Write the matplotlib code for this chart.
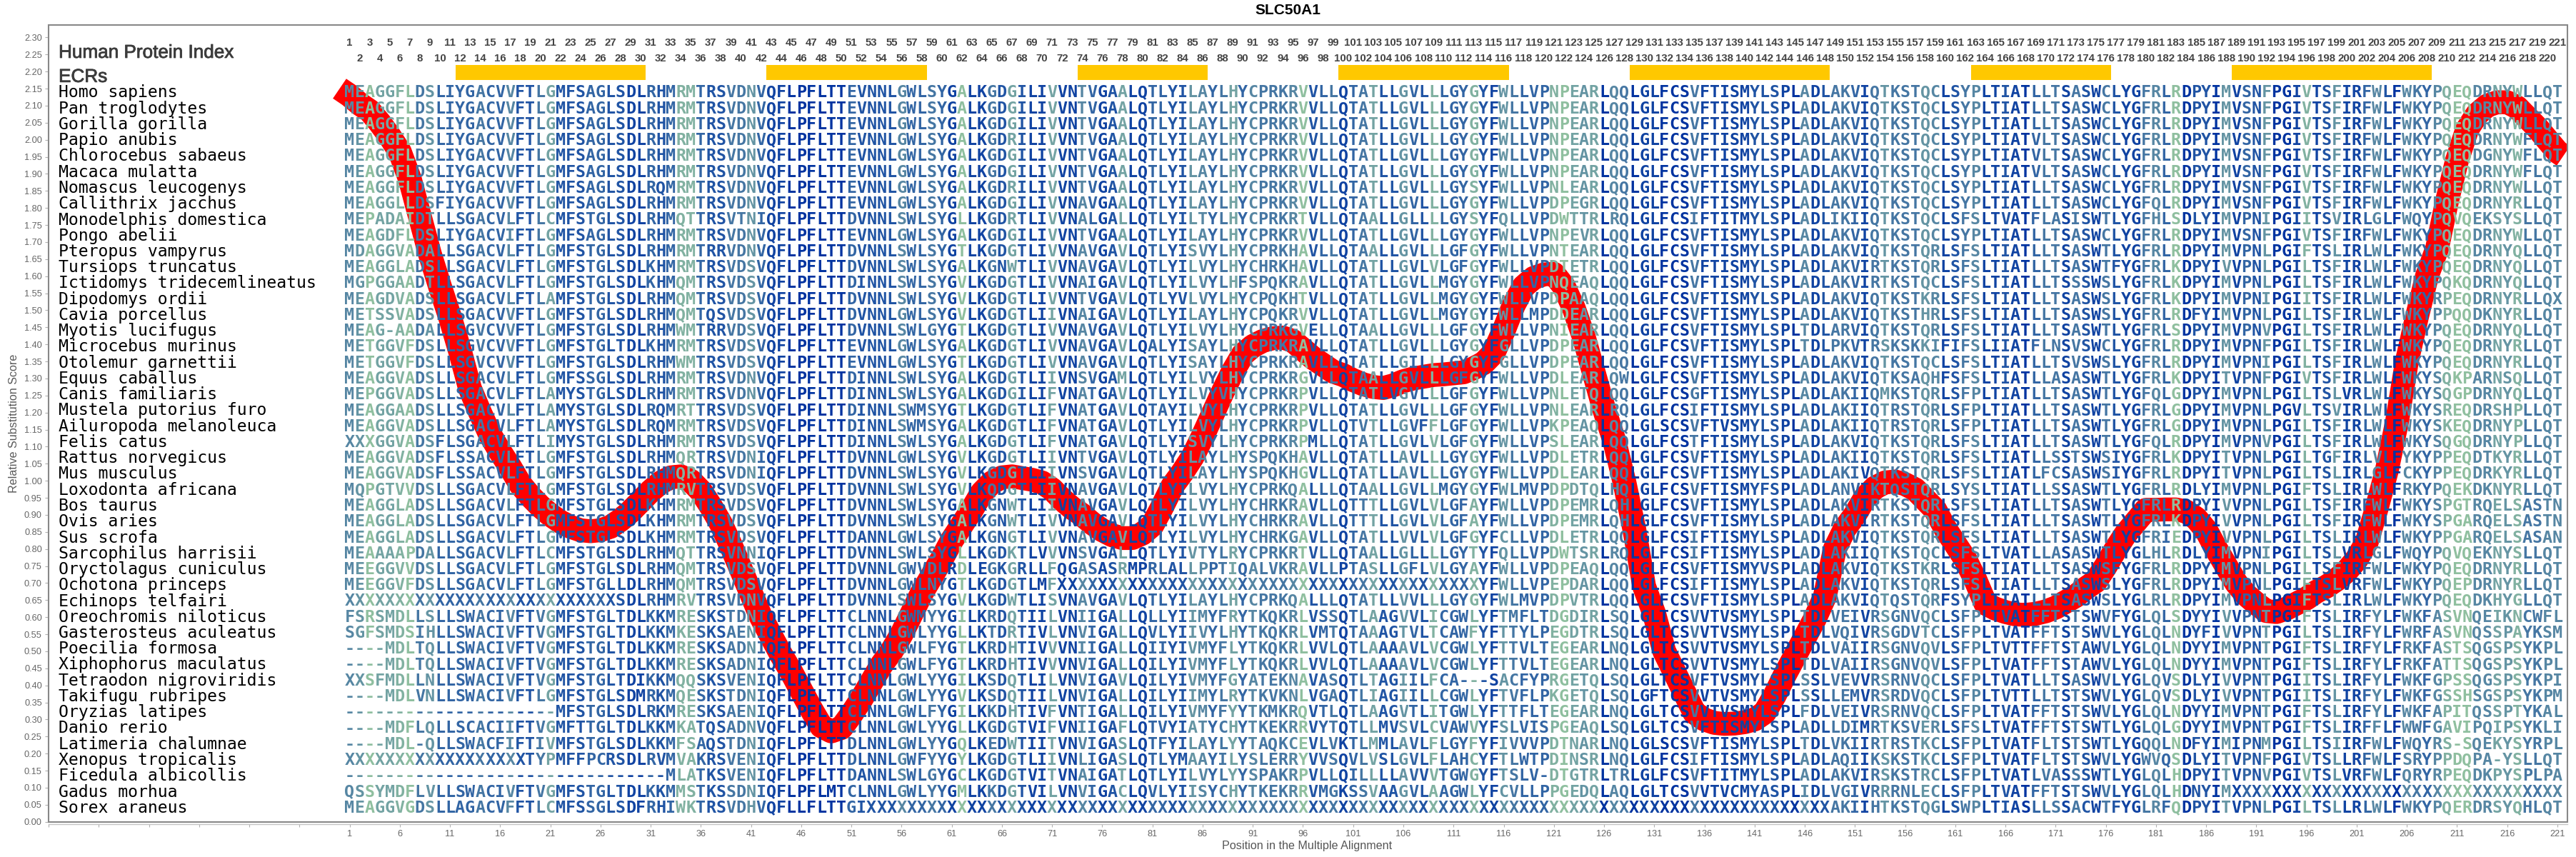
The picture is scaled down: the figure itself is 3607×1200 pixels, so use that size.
import matplotlib
matplotlib.use("Agg")
import matplotlib.pyplot as plt
import matplotlib.patheffects as pe
from matplotlib.colors import LinearSegmentedColormap
from matplotlib.font_manager import FontProperties
from matplotlib.patches import Rectangle

TITLE = "SLC50A1"
SPECIES = ["Homo sapiens","Pan troglodytes","Gorilla gorilla","Papio anubis","Chlorocebus sabaeus","Macaca mulatta",
"Nomascus leucogenys","Callithrix jacchus","Monodelphis domestica","Pongo abelii","Pteropus vampyrus","Tursiops truncatus",
"Ictidomys tridecemlineatus","Dipodomys ordii","Cavia porcellus","Myotis lucifugus","Microcebus murinus","Otolemur garnettii",
"Equus caballus","Canis familiaris","Mustela putorius furo","Ailuropoda melanoleuca","Felis catus","Rattus norvegicus",
"Mus musculus","Loxodonta africana","Bos taurus","Ovis aries","Sus scrofa","Sarcophilus harrisii","Oryctolagus cuniculus",
"Ochotona princeps","Echinops telfairi","Oreochromis niloticus","Gasterosteus aculeatus","Poecilia formosa",
"Xiphophorus maculatus","Tetraodon nigroviridis","Takifugu rubripes","Oryzias latipes","Danio rerio","Latimeria chalumnae",
"Xenopus tropicalis","Ficedula albicollis","Gadus morhua","Sorex araneus"]

# alignment, positions 1-30
SEQ_A = ["MEAGGFLDSLIYGACVVFTLGMFSAGLSDL","MEAGGFLDSLIYGACVVFTLGMFSAGLSDL","MEAGGFLDSLIYGACVVFTLGMFSAGLSDL",
"MEAGGFLDSLIYGACVVFTLGMFSAGLSDL","MEAGGFLDSLIYGACVVFTLGMFSAGLSDL","MEAGGFLDSLIYGACVVFTLGMFSAGLSDL",
"MEAGGFLDSLIYGACVVFTLGMFSAGLSDL","MEAGGLLDSFIYGACVVFTLGMFSAGLSDL","MEPADAIDTLLSGACVLFTLCMFSTGLSDL",
"MEAGDFLDSLIYGACVIFTLGMFSAGLSDL","MDAGGVADALLSGACVLFTLGMFSTGLSDL","MEAGGLADSLLSGACVLFTLGMFSTGLSDL",
"MGPGGAADTLLSGACVLFTLGMFSTGLSDL","MEAGDVADSLLSGACVLFTLAMFSTGLSDL","METSSVADSLLSGACVVFTLGMFSTGLSDL",
"MEAG-AADALLSGVCVVFTLGMFSTGLSDL","METGGVFDSLLSGVCVVFTLGMFSTGLTDL","METGGVFDSLLSGVCVVFTLGMFSTGLSDL",
"MEAGGVADSLLSGACVLFTLGMFSSGLSDL","MEPGGVADSLLSGACVLFTLAMYSTGLSDL","MEAGGAADSLLSGACVLFTLAMYSTGLSDL",
"MEAGGVADSLLSGACVLFTLAMYSTGLSDL","XXXGGVADSFLSGACVLFTLIMYSTGLSDL","MEAGGVADSFLSSACVLFTLGMFSTGLSDL",
"MEAGGVADSFLSSACVLFTLGMFSTGLSDL","MQPGTVVDSLLSGACVLFTLGMFSTGLSDL","MEAGGLADSLLSGACVLFTLGMFSTGLSDL",
"MEAGGLADSLLSGACVLFTLGMFSTGLSDL","MEAGGLADSLLSGACVLFTLGMFSTGLSDL","MEAAAAPDALLSGACVLFTLCMFSTGLSDL",
"MEEGGVVDSLLSGACVLFTLGMFSTGLSDL","MEEGGVFDSLLSGACVLFTLGMFSTGLLDL","X"*27+"SDL",
"FSRSMDLLSLLSWACIVFTVGMFSTGLTDL","SGFSMDSIHLLSWACIVFTVGMFSTGLTDL","----MDLTQLLSWACIVFTVGMFSTGLTDL",
"----MDLTQLLSWACIVFTVGMFSTGLTDL","XXSFMDLLNLLSWACIVFTVGMFSTGLTDI","----MDLVNLLSWACIVFTLGMFSTGLSDM",
"-"*21+"MFSTGLSDL","----MDFLQLLSCACIIFTVGMFTTGLTDL","----MDL-QLLSWACFIFTIVMFSTGLSDL",
"X"*18+"TYPMFFPCRSDL","-"*30,"QSSYMDFLVLLSWACIVFTVGMFSTGLTDL","MEAGGVGDSLLAGACVFFTLCMFSSGLSDF"]

# alignment, positions 31-94
SEQ_B = ["RHMRMTRSVDNVQFLPFLTTEVNNLGWLSYGALKGDGILIVVNTVGAALQTLYILAYLHYCPRK",
"RHMRMTRSVDNVQFLPFLTTEVNNLGWLSYGALKGDGILIVVNTVGAALQTLYILAYLHYCPRK",
"RHMRMTRSVDNVQFLPFLTTEVNNLGWLSYGALKGDGILIVVNTVGAALQTLYILAYLHYCPRK",
"RHMRMTRSVDNVQFLPFLTTEVNNLGWLSYGALKGDRILIVVNTVGAALQTLYILAYLHYCPRK",
"RHMRMTRSVDNVQFLPFLTTEVNNLGWLSYGALKGDGILIVVNTVGAALQTLYILAYLHYCPRK",
"RHMRMTRSVDNVQFLPFLTTEVNNLGWLSYGALKGDGILIVVNTVGAALQTLYILAYLHYCPRK",
"RQMRMTRSVDNVQFLPFLTTEVNNLGWLSYGALKGDRILIVVNTVGAALQTLYILAYLHYCPRK",
"RHMRMTRSVDNVQFLPFLTTEVNNLGWLSYGALKGDGILIVVNAVGAALQTLYILAYLHYCPRK",
"RHMQTTRSVTNIQFLPFLTTDVNNLSWLSYGLLKGDRTLIVVNALGALLQTLYILTYLHYCPRK",
"RHMRMTRSVDNVQFLPFLTTEVNNLGWLSYGALKGDGILIVVNTVGAALQTLYILAYLHYCPRK",
"RHMRMTRRVDNVQFLPFLTTDVNNLSWLSYGTLKGDGTLIVVNAVGAVLQTLYISVYLHYCPRK",
"KHMRMTRSVDSVQFLPFLTTDVNNLSWLSYGALKGNWTLIVVNAVGAVLQTLYILVYLHYCHRK",
"KHMQMTRSVDSVQFLPFLTTDINNLSWLSYGVLKGDGTLIVVNAIGAVLQTLYILVYLHFSPQK",
"RHMQMTRSVDSVQFLPFLTTDVNNLSWLSYGVLKGDGTLIVVNTVGAVLQTLYVLVYLHYCPQK",
"RHMQMTQSVDSVQFLPFLTTDVNNLGWLSYGVLKGDGTLIIVNAIGAVLQTLYILAYLHYCPQK",
"RHMWMTRRVDSVQFLPFLTTDVNNLSWLGYGTLKGDGTLIVVNAVGAVLQTLYILVYLHYCPRK",
"KHMRMTRSVDSVQFLPFLTTEVNNLGWLSYGALKGDGTLIVVNAVGAVLQALYISAYLHYCPRK",
"RHMWMTRSVDSVQFLPFLTTEVNNLGWLSYGTLKGDGTLIVVNAVGAVLQTLYISAYLHYCPRK",
"RHMRMTRSVDNVQFLPFLTTDINNLSWLSYGALKGDGTLIIVNSVGAMLQTLYILVYLHYCPRK",
"RHMRMTRSVDNVQFLPFLTTDINNLSWLSYGALKGDGILIFVNATGAVLQTLYILVYVHYCPRK",
"RQMRTTRSVDSVQFLPFLTTDINNLSWMSYGTLKGDGTLIFVNATGAVLQTAYILVYLHYCPRK",
"RQMRMTRSVDSVQFLPFLTTDINNLSWMSYGALKGDGTLIFVNATGAVLQTLYILVYLHYCPRK",
"RHMRMTRSVDSVQFLPFLTTDINNLSWLSYGALKGDGTLIFVNATGAVLQTLYISVYLHYCPRK",
"RHMQRTRSVDNIQFLPFLTTDVNNLGWLSYGVLKGDGTLIIVNTVGAVLQTLYILAYLHYSPQK",
"RHMQRTRSVDNIQFLPFLTTDVNNLSWLSYGVLKGDGTLIIVNSVGAVLQTLYILAYLHYSPQK",
"RHMRVTRSVDSVQFLPFLTTDVNNLSWLSYGVLKQDGTLIIVNAVGAVLQTLYILVYLHYCPRK",
"KHMRMTRSVDSVQFLPFLTTDVNNLSWLSYGALKGNWTLIIVNAVGAVLQTLYILVYLHYCHRK",
"KHMRMTRSVDSVQFLPFLTTDVNNLSWLSYGALKGNWTLIVVNAVGAVLQTLYILVYLHYCHRK",
"KHMRMTRSVDSVQFLPFLTTDANNLGWLSYGALKGNGTLIVVNAVGAVLQTLYILVYLHYCHRK",
"RHMQTTRSVNNIQFLPFLTTDVNNLSWLSYGLLKGDKTLVVVNSVGALLQTLYIVTYLRYCPRK",
"RHMQMTRSVDSVQFLPFLTTDVNNLGWVDLRDLEGKGRLLFQGASASRMPRLALLPPTIQALVK",
"RHMQMTRSVDSVQFLPFLTTDVNNLGWLNYGTLKGDGTLMF"+"X"*23,
"RHMRVTRSVDNVQFLPFLTTDVNNLSWLSYGVLKGDWTLISVNAVGAVLQTLYILAYLHYCPRK",
"KKMRESKSTDNIQFLPFLTTCLNNLGWMYYGILKRDQTIILVNIIGALLQLLYIIMYFRYTKQK",
"KKMKESKSAENIQFLPFLTTCLNNLGWLYYGLLKTDRTIVLVNVIGALLQVLYIIVYLHYTKQK",
"KKMRESKSADNIQFLPFLTTCLNNLGWLFYGTLKRDHTIVVVNIIGALLQIIYIVMYFLYTKQK",
"KKMRESKSADNIQFLPFLTTCLNNLGWLFYGTLKRDHTIVVVNVIGALLQILYIVMYFLYTKQK",
"KKMQQSKSVENIQFLPFLTTCLNNLGWLYYGILKSDQTLILVNVIGAVLQILYIVMYFGYATEK",
"RKMQESKSTDNIQFLPFLTTCLNNLGWLYYGVLKSDQTIILVNVIGALLQILYIIMYLRYTKVK",
"RKMRESKSAENIQFLPFLTTCLNNLGWLFYGILKKDHTIVFVNTIGALLQILYIVMYFYYTKMK",
"KKMKATQSADNVQFLPFLTTCLNNLGWLYYGLLKGDGTVIFVNIIGAFLQTVYIATYCHYTKEK",
"KKMFSAQSTDNIQFLPFLTTDLNNLGWLYYGQLKEDWTIITVNVIGASLQTFYILAYLYYTAQK",
"RVMVAKRSVENIQFLPFLTTDLNNLGWFYYGYLKGDGTLIIVNLIGASLQTLYMAAYILYSLER",
"--MLATKSVENIQFLPFLTTDANNLSWLGYGCLKGDGTVITVNAIGATLQTLYILVYLYYSPAK",
"KKMMSTKSSDNIQFLPFLMTCLNNLGWLYYGMLKKDGTVILVNVIGACLQVLYIISYCHYTKEK",
"RHIWKTRSVDHVQFLLFLTTGI"+"X"*42]

# alignment, positions 95-158
C_HOMO = "RVVLLQTATLLGVLLLGYGYFWLLVPNPEARLQQLGLFCSVFTISMYLSPLADLAKVIQTKSTQ"
SEQ_C = [C_HOMO, C_HOMO, C_HOMO, C_HOMO, C_HOMO, C_HOMO,
"RVVLLQTATLLGVLLLGYSYFWLLVPNLEARLQQLGLFCSVFTISMYLSPLADLAKVIQTKSTQ",
"RVVLLQTATLLGVLLLGYGYFWLLVPDPEGRLQQLGLFCSVFTISMYLSPLADLAKVIQTKSTQ",
"RTVLLQTAALLGLLLLGYSYFQLLVPDWTTRLRQLGLFCSIFTITMYLSPLADLIKIIQTKSTQ",
"RVVLLQTATLLGVLLLGYGYFWLLVPNPEVRLQQLGLFCSVFTISMYLSPLADLAKVIQTKSTQ",
"HAVLLQTAALLGVLLLGFGYFWLLVPNTEARLQQLGLFCSVFTISMYLSPLADLAKVIQTKSTQ",
"HAVLLQTATLLGVLVLGFGYFWLLVPDTETRLQQLGLFCSVFTISMYLSPLADLAKVIRTKSTQ",
"RAVLLQTATLLGVLLMGYGYFWLLVPNQEAQLQQLGLFCSVFTISMYLSPLADLAKVIRTKSTQ",
"HTVLLQTATLLGVLLMGYGYFWLLVPDPAAQLQQLGLFCSVFTISMYLSPLADLAKVIQTKSTK",
"RVVLLQTATLLGVLLMGYGYFWLLMPDDEARLQQLGLFCSVFTISMYLSPLADLAKVIQTKSTH",
"GVELLQTAALLGVLLLGFGYFWLLVPNIEARLQQLGLFCSVFTISMYLSPLTDLARVIQTKSTQ",
"RAVLLQTATLLGVLLLGYGYFGLLVPDPEARLQQLGLFCSVFTISMYLSPLTDLPKVTRSKSKK",
"RAVLLQTATLLGILLLGYGYFGLLVPDPEARLQQLGLFCSVFTISMYLSPLADLAKVIQTKSTQ",
"RGVLLQTAALLGVLLLGFGYFWLLVPDLEARLQWLGLFCSVFTISMYLSPLADLAKVIQTKSAQ",
"RPVLLQTATLVGVLLLGFGYFWLLVPNLETQLQQLGLFCSGFTISMYLSPLADLAKIIQMKSTQ",
"RPVLLQTATLLGVLLLGFGYFWLLVPNLEARLRQLGLFCSIFTISMYLSPLADLAKIIQTRSTQ",
"RPVLLQTVTLLGVFFLGFGYFWLLVPKPEAQLQQLGLSCSVFTVSMYLSPLADLAKIIQTRSTQ",
"RPMLLQTATLLGVLVLGFGYFWLLVPSLEARLQQLGLFCSTFTISMYLSPLADLAKVIQTKSTQ",
"HAVLLQTATLLAVLLLGYGYFWLLVPDLETRLQQLGLFCSVFTISMYLSPLADLAKIIQTKSTQ",
"HGVLLQTATLLAVLLLGYGYFWLLVPDLEARLQQLGLFCSVFTISMYLSPLADLAKIVQTKSTQ",
"QALLLQTAALLGVLLMGYGYFWLMVPDPDTQLHQLGLFCSVFTISMYFSPLADLANVIKTQSTQ",
"RAVLLQTTTLLGVLVLGFAYFWLLVPDPEMRLQHLGLFCSVFTISMYLSPLADLAKVIRTKSTQ",
"RAVLLQTTTLLGVLVLGFAYFWLLVPDPEMRLQHLGLFCSVFTISMYLSPLADLAKVIRTKSTQ",
"GAVLLQTATLLVVLVLGFGYFCLLVPDLETRLQQLGLFCSIFTISMYLSPLADLAKVIQTKSTQ",
"RTVLLQTAALLGLLLLGYTYFQLLVPDWTSRLRQLGLFCSIFTISMYLSPLADLAKIIQTKSTQ",
"RAVLLPTASLLGFLVLGYAYFWLLVPDPEAQLQQLGLFCSVFTISMYVSPLADLAKVIQTKSTK",
"X"*19+"YFWLLVPEPDARLQQLGLFCSIFTISMYLSPLADLAKVIQTKSTQ",
"QALLLQTATLLVVLLLGYGYFWLMVPDPVTRLQQLGLFCSVFTISMYLSPLADLAKVIQTQSTQ",
"RLVSSQTLAAGVVLICGWLYFTMFLTDGDIRLSQLGLTCSVVTVSMYLSPLTDLVEIVRSGNVQ",
"RLVMTQTAAAGTVLTCAWFYFTTYLPEGDTRLSQLGLTCSVVTVSMYLSPLTDLVQIVRSGDVT",
"RLVVLQTLAAAAVLVCGWLYFTTVLTEGEARLNQLGLTCSVVTVSMYLSPLTDLVAIIRSGNVQ",
"RLVVLQTLAAAAVLVCGWLYFTTVLTEGEARLNQLGLTCSVVTVSMYLSPLTDLVAIIRSGNVQ",
"NAVASQTLTAGIILFCA---SACFYPRGETQLSQLGLTCSVFTVSMYLSPLSSLVEVVRSRNVQ",
"NLVGAQTLIAGIILLCGWLYFTVFLPKGETQLSQLGFTCSVVTVSMYLSPLSSLLEMVRSRDVQ",
"RQVTLQTLAAGVTLITGWLYFTTFLTEGEARLNQLGLTCSVVTVSMYLSPLFDLVEIVRSRNVQ",
"RRVYTQTLLMVSVLCVAWVYFSLVISPGEAQLSQLGLTCSVFTISMYLSPLADLLDIMRTKSVE",
"CEVLVKTLMMLAVLFLGYFYFIVVVPDTNARLNQLGLSCSVFTISMYLSPLTDLVKIIRTRSTK",
"RYVVSQVLVSLGVLFLAHCYFTLWTPDINSRLNQLGLFCSIFTISMYLSPLADLAQIIKSKSTK",
"RPVLLQILLLLAVVVTGWGYFTSLV-DTGTRLTRLGLFCSVFTITMYLSPLADLAKVIRSKSTR",
"RRVMGKSSVAAGVLAAGWLYFCVLLPPGEDQLAQLGLTCSVVTVCMYASPLIDLVGIVRRRNLE",
"X"*54+"AKIIHTKSTQ"]

# alignment, positions 159-221
D_HOMO = "CLSYPLTIATLLTSASWCLYGFRLRDPYIMVSNFPGIVTSFIRFWLFWKYPQEQDRNYWLLQT"
SEQ_D = [D_HOMO, D_HOMO, D_HOMO,
"CLSYPLTIATVLTSASWCLYGFRLRDPYIMVSNFPGIVTSFIRFWLFWKYPQEQDRNYWFLQT",
"CLSYPLTIATVLTSASWCLYGFRLRDPYIMVSNFPGIVTSFIRFWLFWKYPQEQDGNYWFLQT",
"CLSYPLTIATVLTSASWCLYGFRLRDPYIMVSNFPGIVTSFIRFWLFWKYPQEQDRNYWFLQT",
D_HOMO,
"CLSYPLTIATLLTSASWCLYGFQLRDPYIMVSNFPGIVTSFIRFWLFWKYPQEQDRNYRLLQT",
"CLSFSLTVATFLASISWTLYGFHLSDLYIMVPNIPGIITSVIRLGLFWQYPQVQEKSYSLLQT",
D_HOMO,
"RLSFSLTIATLLTSASWTLYGFRLRDPYIMVPNLPGIFTSLIRLWLFWKYPQEQDRNYQLLQT",
"RLSFSLTIATLLTSASWTFYGFRLKDPYIVVPNLPGILTSFIRLWLFWKYPQEQDRNYQLLQT",
"CLSFSLTIATLLTSSSWSLYGFRLKDPYIMVPNLPGILTSFIRLWLFWKYPQKQDRNYQLLQT",
"RLSFSLTIATLLTSASWSLYGFRLKDPYIMVPNIPGIITSFIRLWLFWKYRPEQDRNYRLLQX",
"RLSFSLTIATLLTSASWSLYGFRLRDFYIMVPNLPGILTSFIRLWLFWKYPPQQDKNYRLLQT",
"RLSFSLTIATLLTSASWTLYGFRLSDPYIMVPNVPGILTSFIRLWLFWKYPQEQDRNYQLLQT",
"IFIFSLIIATFLNSVSWCLYGFRLRDPYIMVPNFPGILTSFIRLWLFWKYPQEQDRNYRLLQT",
"CLSFSLTIATLLTSVSWSLYGFRLRDPYIMVPNIPGILTSFIRLWLFWKYPQEQDRNYRLLQT",
"HFSFSLTIATLLASASWTLYGFRLKDPYITVPNFPGIVTSFIRLWLFWKYSQKPARNSQLLQT",
"RLSFPLTIATLLTSASWTLYGFQLGDPYIMVPNLPGILTSLVRLWLFWKYSQGPDRNYQLLQT",
"RLSFPLTIATLLTSASWTLYGFRLGDPYIMVPNLPGVLTSVIRLWLFWKYSREQDRSHPLLQT",
"RLSFPLTIATLLTSASWTLYGFRLGDPYIMVPNLPGILTSFIRLWLFWKYSKEQDRNYPLLQT",
"RLSFSLTIATLLTSASWTLYGFQLRDPYIMVPNVPGILTSFIRLWLFWKYSQGQDRNYPLLQT",
"RLSFSLTIATLLSSTSWSIYGFRLKDPYITVPNLPGILTGFIRLVLFYKYPPEQDTKYRLLQT",
"RLSFSLTIATLFCSASWSIYGFRLRDPYITVPNLPGILTSLIRLGLFCKYPPEQDRKYRLLQT",
"RLSYSLTIATLLSSASWTLYGFRLRDLYIMVPNLPGIFTSLIRLWLFRKYPQEKDKNYRLLQT",
"RLSFSLTIATLLTSASWTLYGFRLRDPYIVVPNLPGILTSFIRFWLFWKYSPGTRQELSASTN",
"RLSFSLTIATLLTSASWTLYGFRLKDPYIVVPNLPGILTSFIRFWLFWKYSPGARQELSASTN",
"RLSFSLTIATLLTSASWTLYGFRIEDPYIVVPNLPGILTSLIRLWLFWKYPPGARQELSASAN",
"CLSFSLTVATLLASASWTLYGLHLRDLYIMVPNIPGILTSLVRLGLFWQYPQVQEKNYSLLQT",
"RLSFSLTIATLLTSASWSFYGFRLRDPYIMVPNLPGILTSFIRFWLFWKYPQEQDRNYRLLQT",
"RLSFSLTIATLLTSASWSLYGFRLRDPYIMVPNLPGIFTSLVRFWLFWKYPQEPDRNYRLLQT",
"RFSYPLTIATLLTSASWSLYGLRLRDPYIMVPNLPGIFTSLIRLWLFWKYPQEQDKHYGLLQT",
"CLSFPLTVATFFTSTSWVFYGLQLSDYYIVVPNTPGIFTSLIRFYLFWKFASVNQEIKNCWFL",
"CLSFPLTVATFFTSTSWVLYGLQLNDYFIVVPNTPGILTSLIRFYLFWRFASVNQSSPAYKSM",
"VLSFPLTVTTFFTSTAWVLYGLQLNDYYIMVPNTPGIFTSLIRFYLFRKFASTSQGSPSYKPL",
"VLSFPLTVATFFTSTAWVLYGLQLNDYYIMVPNTPGIFTSLIRFYLFRKFATTSQGSPSYKPL",
"CLSFPLTVATLLTSASWVLYGLQVSDLYIVVPNTPGIITSLIRFYLFWKFGPSSQGSPSYKPI",
"CLSFPLTVTTLLTSTSWVLYGLQVSDLYIVVPNTPGIITSLIRFYLFWKFGSSHSGSPSYKPM",
"CLSFPLTVATFFTSTSWVLYGLQLNDYYIMVPNTPGIFTSLIRFYLFWKFAPITQSSPTYKAL",
"RLSFSLTVATFFTSTSWTLYGLQLGDYYIMVPNTPGIFTSLIRFFLFWWFGAVIPQIPSYKLI",
"CLSFPLTVATFLTSTSWTLYGQQLNDFYIMIPNMPGILTSIIRFWLFWQYRS-SQEKYSYRPL",
"CLSFPLTVATFLTSTSWVLYGWVQSDLYITVPNFPGIVTSLLRFWLFSRYPPDQPA-YSLLQT",
"CLSFPLTVATLVASSSWTLYGLQLHDPYITVPNVPGIVTSLVRFWLFQRYRPEQDKPYSPLPA",
"CLSFPLTVATFFTSTSWVLYGLQLHDNYIM"+"X"*33,
"GLSWPLTIASLLSSACWTFYGLRFQDPYITVPNLPGILTSLLRLWLFWKYPQERDRSYQHLQT"]

# conservation shade of each alignment column, 0 = palest, 9 = darkest
COLUMN_LEVEL = ("430221053666656647752777667788"
 "6761167755" "3688999999" "6777746656" "8088572788" "2884687288" "6677346526" "4555"
 "4076586527" "7367166617" "8356661023" "2945988999" "5888887778" "9487556853" "5553"
 "4875488789" "6558578578" "8546097793" "8673998187" "3886479456" "4100442315" "544")

ECR_START = [12, 43, 74, 100, 129, 163, 189]
ECR_END = [30, 58, 86, 116, 148, 176, 208]

# relative substitution score, positions 0-221 and the end of the line
LINE_POS = list(range(222)) + [221.6]
LINE_SCORE = [2.15,2.13,2.105,2.085,2.05,2.01,1.965,1.885,1.775,1.665,
1.57,1.48,1.38,1.27,1.20,1.135,1.085,1.04,.99,.955,
.925,.90,.88,.865,.855,.852,.855,.865,.885,.91,
.94,.97,.995,1.01,1.013,1.0,.97,.925,.874,.81,
.74,.67,.60,.545,.49,.44,.385,.33,.28,.265,
.275,.315,.36,.41,.46,.50,.55,.61,.67,.72,
.77,.825,.87,.915,.965,.995,1.01,1.013,1.008,1.003,
.995,.975,.945,.92,.90,.875,.855,.84,.832,.832,
.845,.87,.925,.985,1.025,1.07,1.13,1.195,1.26,1.32,
1.37,1.395,1.41,1.418,1.42,1.41,1.385,1.36,1.34,1.32,
1.31,1.295,1.283,1.275,1.272,1.28,1.292,1.30,1.305,1.31,
1.312,1.315,1.318,1.33,1.345,1.375,1.44,1.515,1.57,1.595,
1.605,1.607,1.57,1.505,1.42,1.315,1.21,1.12,1.00,.86,
.69,.61,.50,.44,.38,.32,.30,.29,.287,.288,
.292,.30,.32,.37,.43,.485,.54,.595,.66,.80,
.86,.90,.95,.98,.995,.998,.99,.975,.945,.915,
.86,.815,.77,.71,.64,.625,.615,.608,.607,.61,
.617,.628,.645,.662,.685,.705,.75,.80,.845,.88,
.915,.915,.916,.916,.91,.89,.855,.80,.75,.70,
.665,.64,.618,.615,.625,.64,.655,.675,.69,.71,
.735,.77,.82,.92,1.03,1.17,1.35,1.48,1.60,1.68,
1.82,1.94,2.03,2.075,2.10,2.11,2.11,2.095,2.065,2.035,
2.0,1.965,1.953]

Y_TICKS = [i * 0.05 for i in range(47)]
X_TICKS = list(range(-29, 222, 5))

SEQUENCES = [a + b + c + d for a, b, c, d in zip(SEQ_A, SEQ_B, SEQ_C, SEQ_D)]

cmap = LinearSegmentedColormap.from_list("cons", ["#8FBF9F", "#6F9FA3", "#4F7FA3", "#2458A4", "#0033A0"])

W, H = 3607, 1200
fig = plt.figure(figsize=(W / 100, H / 100), dpi=100, facecolor="white")
L, R, T, B = 68, 3595, 35, 1150.7
ax = fig.add_axes([L / W, 1 - B / H, (R - L) / W, (B - T) / H])
ax.set_xlim(-29, 222)
ax.set_ylim(0, (B - T) / 477.5)

for s in ("top", "right", "left"):
    ax.spines[s].set_visible(False)
ax.spines["bottom"].set_position(("outward", 2.5))
ax.spines["bottom"].set_color("#c4c4c4")
ax.spines["bottom"].set_linewidth(1.0)
ax.add_patch(Rectangle((0, 0), 1, 1, transform=ax.transAxes, fill=False, ec="#888888", lw=1.5, clip_on=False, zorder=6))

ax.set_yticks(Y_TICKS)
ax.set_yticklabels([f"{v:.2f}" for v in Y_TICKS], fontsize=9.2, color="#666666", family="Liberation Sans")
ax.set_xticks(X_TICKS)
ax.set_xticklabels([str(v) if v > 0 else "" for v in X_TICKS], fontsize=9.2, color="#666666", family="Liberation Sans")
ax.tick_params(axis="y", length=3.6, width=0.8, color="#b0b0b0", pad=3)
ax.tick_params(axis="x", length=3.2, width=0.8, color="#b0b0b0", pad=2.5)

ax.set_xlabel("Position in the Multiple Alignment", fontsize=11.6, color="#555555", family="Liberation Sans")
ax.xaxis.set_label_coords(0.4996, (B - 1184) / (B - T), transform=ax.transAxes)
ax.xaxis.label.set_verticalalignment("center")
ax.set_ylabel("Relative Substitution Score", fontsize=11.6, color="#5a5a5a", family="Liberation Sans")
ax.yaxis.set_label_coords((20 - L) / (R - L), 0.5, transform=ax.transAxes)
ax.yaxis.label.set_verticalalignment("center")

fig.text(1803 / W, 1 - 14 / H, TITLE, ha="center", va="center", fontsize=15, fontweight="bold",
         family="Liberation Sans", color="black")

# red score line, below the letters
ax.plot(LINE_POS, LINE_SCORE, color="#FF0000", lw=24, solid_capstyle="butt", solid_joinstyle="round", zorder=2)

# ECR bars
ax.barh([(2.219 + 2.175) / 2] * len(ECR_START), [e - s + 0.95 for s, e in zip(ECR_START, ECR_END)],
        left=[s - 0.45 for s in ECR_START], height=2.219 - 2.175, color="#FFC800", edgecolor="none", zorder=1)

LEFT_X = -28
HEAVY = [pe.withStroke(linewidth=0.6, foreground="#3c3c3c")]
ax.text(LEFT_X, 2.255, "Human Protein Index", fontsize=18.8, color="#3c3c3c", family="Liberation Sans",
        va="center", ha="left", path_effects=HEAVY)
ax.text(LEFT_X, 2.184, "ECRs", fontsize=18.8, color="#3c3c3c", family="Liberation Sans",
        va="center", ha="left", path_effects=HEAVY)

# human protein index numbers
for n in range(1, 222):
    y = 2.284 if n % 2 else 2.238
    ax.text(n, y, str(n), fontsize=10.8, fontweight="bold", color="#444444", family="Liberation Sans",
            ha="center", va="center", zorder=3)

fp_reg = FontProperties(family="DejaVu Sans Mono", size=16.7)
fp_bold = FontProperties(family="DejaVu Sans Mono", weight="bold", size=16.8)
BASE = (B - 136.5) / 477.5
STEP = 22.25 / 477.5
for r, (name, seq) in enumerate(zip(SPECIES, SEQUENCES)):
    y = BASE - r * STEP
    ax.text(LEFT_X, y, name, fontproperties=fp_reg, color="black", ha="left", va="baseline", zorder=5)
    for i, ch in enumerate(seq):
        ax.text(i + 1, y, ch, fontproperties=fp_bold, color=cmap(int(COLUMN_LEVEL[i]) / 9),
                ha="center", va="baseline", zorder=4)

fig.savefig("out.png", dpi=100, facecolor="white")
